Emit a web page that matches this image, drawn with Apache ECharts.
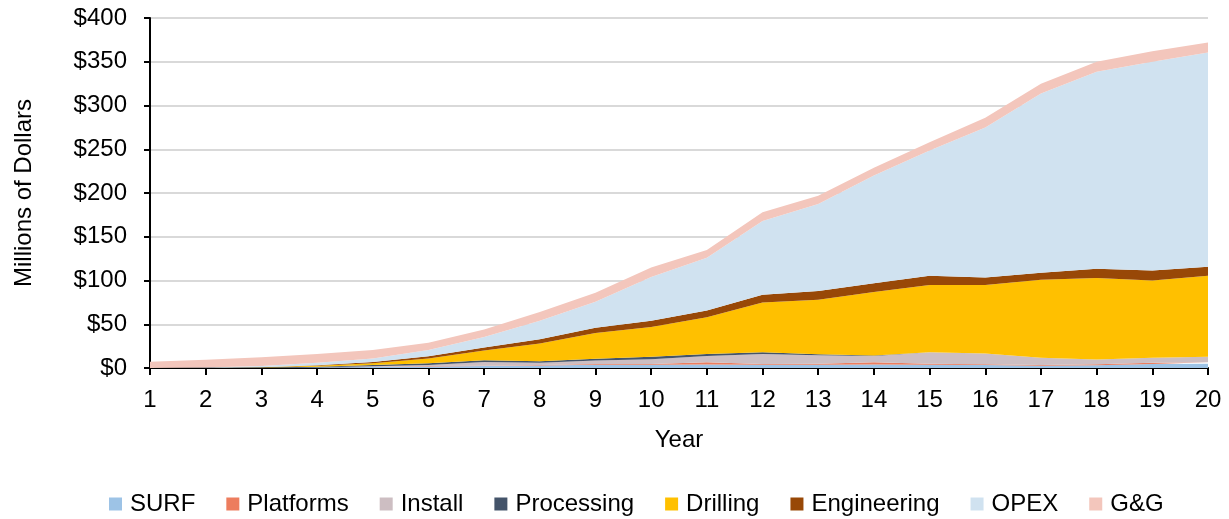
<!DOCTYPE html>
<html>
<head>
<meta charset="utf-8">
<script src="https://cdn.jsdelivr.net/npm/echarts@6/dist/echarts.min.js"></script>
<style>
html,body{margin:0;padding:0;background:#fff;}
#chart{width:1229px;height:519px;}
</style>
</head>
<body>
<div id="chart"></div>
<script>
const years = ['1','2','3','4','5','6','7','8','9','10','11','12','13','14','15','16','17','18','19','20'];
const yTicks = [0, 50, 100, 150, 200, 250, 300, 350, 400];

const surf        = [0, 0, 0.3, 0.8, 1.2, 1.8, 2.2, 2.8, 3.6, 3.6, 4.0, 3.6, 3.8, 4.0, 3.7, 3.4, 2.6, 3.2, 4.5, 5.0];
const platforms   = [0, 0, 0, 0, 0.3, 0.4, 0.5, 0.6, 1.0, 1.0, 2.5, 1.0, 1.0, 2.5, 1.3, 1.0, 0.8, 1.2, 1.5, 1.5];
const install     = [0, 0, 0, 0.2, 0.5, 1.2, 4.3, 2.6, 3.9, 5.4, 7.2, 11.4, 9.7, 7.2, 13.0, 12.1, 8.2, 5.4, 5.6, 6.3];
const processing  = [0, 0, 0.2, 0.5, 1.5, 2.0, 2.0, 1.7, 2.1, 3.0, 2.3, 2.0, 1.2, 0.5, 0, 0, 0, 0, 0, 0];
const drilling    = [0, 0, 0.3, 1.0, 2.0, 5.6, 11.0, 20.3, 29.4, 34.0, 42.0, 57.0, 62.3, 72.8, 77.0, 78.5, 89.4, 93.2, 88.4, 92.7];
const engineering = [0, 0, 0.2, 0.7, 1.5, 2.5, 3.5, 5.0, 6.0, 7.0, 7.7, 8.7, 10.0, 10.0, 10.4, 8.4, 8.0, 10.4, 11.4, 10.2];
const opex        = [0, 0.5, 1.2, 2.8, 4.0, 7.1, 12.0, 21.0, 29.7, 50.0, 60.3, 84.3, 99.5, 123.0, 143.2, 171.6, 204.6, 225.3, 238.6, 244.8];
const gg          = [7.2, 9.0, 10.0, 10.0, 9.5, 8.4, 8.5, 10.0, 10.3, 11.0, 9.0, 10.0, 9.5, 9.0, 9.4, 11.0, 11.4, 11.3, 12.0, 11.5];

const seriesNames = ['SURF','Platforms','Install','Processing','Drilling','Engineering','OPEX','G&G'];
const seriesData = [surf, platforms, install, processing, drilling, engineering, opex, gg];
const colors = ['#9DC3E6','#ED7D5E','#CDBEC2','#44546A','#FFC000','#984807','#D0E2F0','#F3C6BC'];

const FONT = 'Liberation Sans, Arial, sans-serif';
const FS = 24;
const chart = echarts.init(document.getElementById('chart'), null, {renderer:'canvas'});

chart.setOption({
  animation: false,
  color: colors,
  textStyle: {fontFamily: FONT},
  grid: {left: 150, right: 21, top: 18, bottom: 151, containLabel: false},
  legend: {
    top: 487,
    left: 104,
    icon: 'rect',
    itemWidth: 13,
    itemHeight: 13,
    itemGap: 31,
    textStyle: {fontSize: FS, color: '#000', fontFamily: FONT, padding: [0,0,0,3]},
    data: seriesNames
  },
  xAxis: {
    type: 'category',
    boundaryGap: false,
    data: years,
    name: 'Year',
    nameLocation: 'middle',
    nameGap: 60,
    nameTextStyle: {fontSize: FS, color: '#000', fontFamily: FONT},
    axisLine: {show: true, lineStyle: {color: '#000', width: 2}},
    axisTick: {show: true, length: 7, lineStyle: {color: '#000', width: 2}},
    axisLabel: {fontSize: FS, color: '#000', margin: 20, fontFamily: FONT},
    splitLine: {show: false}
  },
  yAxis: {
    type: 'value',
    min: yTicks[0],
    max: yTicks[yTicks.length - 1],
    interval: yTicks[1] - yTicks[0],
    name: 'Millions of Dollars',
    nameLocation: 'middle',
    nameGap: 114,
    nameTextStyle: {fontSize: FS, color: '#000', fontFamily: FONT},
    axisLine: {show: true, lineStyle: {color: '#000', width: 2}},
    axisTick: {show: true, length: 6, lineStyle: {color: '#000', width: 2}},
    axisLabel: {fontSize: FS, color: '#000', margin: 23, fontFamily: FONT,
      formatter: v => '$' + v},
    splitLine: {show: true, lineStyle: {color: '#D9D9D9', width: 2}}
  },
  series: seriesNames.map((name, i) => ({
    name: name,
    type: 'line',
    stack: 'total',
    data: seriesData[i],
    symbol: 'none',
    showSymbol: false,
    lineStyle: {width: 0},
    areaStyle: {color: colors[i], opacity: 1},
    emphasis: {disabled: true},
    z: 2
  }))
});
</script>
</body>
</html>
